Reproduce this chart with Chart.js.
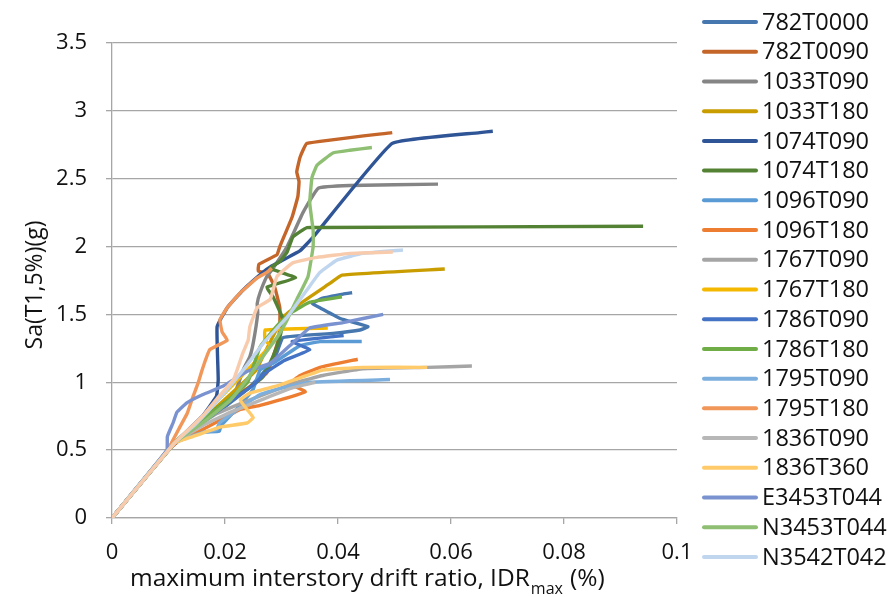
<!DOCTYPE html>
<html>
<head>
<meta charset="utf-8">
<script src="https://cdn.jsdelivr.net/npm/chart.js@4.4.0/dist/chart.umd.min.js"></script>
<style>
  html, body { margin: 0; padding: 0; background: #fff; }
  #wrap { width: 888px; height: 597px; position: relative; }
</style>
</head>
<body>
<div id="wrap"><canvas id="ida"></canvas></div>
<script>
// IDA curves: [IDRmax, Sa(T1,5%)] pairs
const s782T0000 = [[0,0],[0.011,0.55],[0.015,0.68],[0.02,0.82],[0.024,0.95],[0.027,1.08],[0.029,1.2],[0.0303,1.33],[0.0391,1.36],[0.0439,1.385],[0.0453,1.41],[0.0404,1.47],[0.0368,1.55],[0.0354,1.58],[0.0373,1.62],[0.0409,1.65],[0.0425,1.66]];
const s782T0090 = [[0,0],[0.0105,0.52],[0.016,0.72],[0.022,0.9],[0.0255,1.0],[0.0274,1.07],[0.0283,1.16],[0.0294,1.31],[0.0297,1.41],[0.0297,1.55],[0.0288,1.70],[0.0276,1.80],[0.0259,1.82],[0.026,1.87],[0.0292,1.94],[0.0297,2.0],[0.0319,2.22],[0.0329,2.37],[0.0331,2.48],[0.0327,2.55],[0.0333,2.66],[0.0345,2.76],[0.0496,2.84]];
const s1033T090 = [[0,0],[0.011,0.55],[0.015,0.68],[0.019,0.8],[0.022,0.95],[0.0232,1.09],[0.0244,1.19],[0.025,1.29],[0.0258,1.51],[0.0257,1.58],[0.0262,1.66],[0.0274,1.78],[0.0285,1.84],[0.031,2.0],[0.0338,2.25],[0.0365,2.43],[0.0421,2.45],[0.0577,2.46]];
const s1033T180 = [[0,0],[0.011,0.55],[0.014,0.66],[0.018,0.8],[0.022,0.95],[0.0255,1.09],[0.0267,1.19],[0.0303,1.48],[0.0333,1.58],[0.0386,1.73],[0.0407,1.79],[0.0589,1.835]];
const s1074T090 = [[0,0],[0.011,0.55],[0.016,0.75],[0.0185,0.9],[0.0188,1.02],[0.0186,1.41],[0.0204,1.55],[0.0232,1.68],[0.0267,1.81],[0.028,1.85],[0.0333,1.97],[0.0356,2.07],[0.0496,2.76],[0.0651,2.84],[0.0674,2.85]];
const s1074T180 = [[0,0],[0.011,0.55],[0.015,0.7],[0.02,0.85],[0.024,0.95],[0.0267,1.04],[0.0285,1.19],[0.0297,1.33],[0.0303,1.46],[0.0285,1.63],[0.0274,1.70],[0.0325,1.77],[0.028,1.84],[0.0297,1.89],[0.031,1.96],[0.032,2.07],[0.0333,2.11],[0.0345,2.14],[0.0368,2.14],[0.094,2.15]];
const s1096T090 = [[0,0],[0.011,0.55],[0.016,0.63],[0.019,0.64],[0.0193,0.68],[0.022,0.8],[0.025,0.95],[0.0262,1.09],[0.0285,1.14],[0.0333,1.27],[0.0368,1.30],[0.0442,1.30]];
const s1096T180 = [[0,0],[0.011,0.55],[0.015,0.63],[0.0191,0.72],[0.0227,0.80],[0.0262,0.83],[0.0297,0.87],[0.0342,0.93],[0.0315,0.99],[0.0333,1.05],[0.0368,1.11],[0.0435,1.17]];
const s1767T090 = [[0,0],[0.011,0.55],[0.014,0.65],[0.0186,0.77],[0.025,0.88],[0.0327,1.0],[0.0373,1.05],[0.0444,1.10],[0.0558,1.11],[0.0637,1.12]];
const s1767T180 = [[0,0],[0.011,0.55],[0.015,0.7],[0.019,0.88],[0.023,1.05],[0.028,1.27],[0.0271,1.31],[0.0271,1.385],[0.0382,1.40]];
const s1786T090 = [[0,0],[0.011,0.55],[0.016,0.7],[0.021,0.86],[0.025,0.98],[0.0275,1.08],[0.0305,1.16],[0.035,1.24],[0.0319,1.30],[0.040,1.34],[0.041,1.345]];
const s1786T180 = [[0,0],[0.011,0.55],[0.015,0.7],[0.02,0.85],[0.024,1.0],[0.0262,1.26],[0.0297,1.44],[0.032,1.52],[0.035,1.59],[0.0407,1.63]];
const s1795T090 = [[0,0],[0.011,0.55],[0.016,0.63],[0.0185,0.65],[0.019,0.7],[0.023,0.82],[0.0262,0.91],[0.0303,0.96],[0.035,1.0],[0.0492,1.02]];
const s1795T180 = [[0,0],[0.0098,0.5],[0.012,0.67],[0.0133,0.77],[0.0143,0.89],[0.0152,0.99],[0.0161,1.11],[0.0173,1.24],[0.0204,1.31],[0.0195,1.37],[0.0191,1.46],[0.0204,1.55],[0.0227,1.66],[0.0257,1.77],[0.0274,1.81],[0.0283,1.84]];
const s1836T090 = [[0,0],[0.011,0.55],[0.016,0.68],[0.021,0.78],[0.027,0.88],[0.032,0.96],[0.036,1.0]];
const s1836T360 = [[0,0],[0.011,0.55],[0.0143,0.60],[0.0191,0.67],[0.0239,0.70],[0.025,0.74],[0.0239,0.80],[0.0227,0.87],[0.0244,0.92],[0.0297,0.98],[0.0373,1.09],[0.0444,1.11],[0.0558,1.11]];
const sE3453T044 = [[0,0],[0.0097,0.5],[0.0098,0.6],[0.0108,0.70],[0.0115,0.78],[0.0133,0.85],[0.0161,0.91],[0.0196,0.97],[0.0239,1.08],[0.028,1.14],[0.032,1.29],[0.035,1.40],[0.0409,1.44],[0.048,1.50]];
const sN3453T044 = [[0,0],[0.011,0.55],[0.016,0.7],[0.021,0.87],[0.0239,1.02],[0.0267,1.19],[0.0292,1.33],[0.031,1.46],[0.0327,1.61],[0.0347,1.78],[0.0356,2.0],[0.0356,2.12],[0.035,2.32],[0.0354,2.51],[0.0363,2.60],[0.0391,2.69],[0.0421,2.71],[0.046,2.73]];
const sN3542T042 = [[0,0],[0.011,0.55],[0.015,0.7],[0.019,0.88],[0.0232,1.09],[0.027,1.3],[0.031,1.48],[0.0345,1.68],[0.0368,1.81],[0.0398,1.90],[0.0444,1.95],[0.0515,1.975]];
// one more record is plotted (pale peach) but has no legend entry
const sUnlabelled = [[0,0],[0.011,0.55],[0.016,0.75],[0.019,0.9],[0.0215,1.02],[0.0223,1.11],[0.0232,1.22],[0.0241,1.31],[0.0244,1.41],[0.0257,1.55],[0.028,1.61],[0.0285,1.68],[0.0292,1.78],[0.032,1.88],[0.0363,1.92],[0.0421,1.95],[0.0497,1.96]];

const SERIES_NAMES = ["782T0000", "782T0090", "1033T090", "1033T180", "1074T090", "1074T180", "1096T090", "1096T180",
  "1767T090", "1767T180", "1786T090", "1786T180", "1795T090", "1795T180", "1836T090", "1836T360",
  "E3453T044", "N3453T044", "N3542T042", ""];
const SERIES_DATA = [s782T0000, s782T0090, s1033T090, s1033T180, s1074T090, s1074T180, s1096T090, s1096T180,
  s1767T090, s1767T180, s1786T090, s1786T180, s1795T090, s1795T180, s1836T090, s1836T360,
  sE3453T044, sN3453T044, sN3542T042, sUnlabelled];

const X_TICKS = [0, 0.02, 0.04, 0.06, 0.08, 0.1];
const Y_TICKS = [0, 0.5, 1, 1.5, 2, 2.5, 3, 3.5];

const COLORS = ["#4677ae", "#c4652a", "#858585", "#c99d00", "#2f5597", "#548235", "#5b9bd5", "#ed7d31",
  "#a5a5a5", "#f5b800", "#4472c4", "#70ad47", "#7cafdd", "#f1975a", "#b7b7b7", "#ffca6a",
  "#7a93d0", "#8fbf73", "#c0d5ee", "#f8cbad"];

const TEXT = "#111111";
const GRID = "#a6a6a6";
const FONT = "'Open Sans', 'DejaVu Sans', sans-serif";

const titlesAndLegend = {
  id: "titlesAndLegend",
  afterDraw(chart) {
    const ctx = chart.ctx;
    ctx.save();
    ctx.fillStyle = TEXT;

    // y axis title
    ctx.save();
    ctx.translate(35, 285);
    ctx.rotate(-Math.PI / 2);
    ctx.font = `23px ${FONT}`;
    ctx.textAlign = "center";
    ctx.textBaseline = "middle";
    ctx.fillText("Sa(T1,5%)(g)", 0, 0);
    ctx.restore();

    // x axis title with subscript
    ctx.textAlign = "left";
    ctx.textBaseline = "alphabetic";
    let x = 130;
    const base = 586;
    ctx.font = `24.5px ${FONT}`;
    const main = "maximum interstory drift ratio, IDR";
    ctx.fillText(main, x, base);
    x += ctx.measureText(main).width + 1;
    ctx.font = `16px ${FONT}`;
    ctx.fillText("max", x, base + 8);
    x += ctx.measureText("max").width + 7;
    ctx.font = `24.5px ${FONT}`;
    ctx.fillText("(%)", x, base);

    // legend
    ctx.font = `23.5px ${FONT}`;
    ctx.textBaseline = "middle";
    SERIES_NAMES.forEach((name, i) => {
      if (!name) return;
      const y = 22 + i * 29.72;
      ctx.strokeStyle = COLORS[i];
      ctx.lineWidth = 4;
      ctx.lineCap = "round";
      ctx.beginPath();
      ctx.moveTo(704, y);
      ctx.lineTo(756, y);
      ctx.stroke();
      ctx.fillText(name, 762, y + 1);
    });
    ctx.restore();
  },
};

const datasets = SERIES_DATA.map((points, i) => ({
  label: SERIES_NAMES[i],
  data: points.map(([x, y]) => ({ x, y })),
  borderColor: COLORS[i],
  backgroundColor: COLORS[i],
  borderWidth: 3.4,
  pointRadius: 0,
  showLine: true,
  tension: 0.1,
  fill: false,
  order: SERIES_DATA.length - i,
}));

new Chart(document.getElementById("ida"), {
  type: "scatter",
  data: { datasets },
  options: {
    responsive: true,
    maintainAspectRatio: false,
    animation: false,
    devicePixelRatio: 1,
    layout: { padding: { top: 43, right: 211, bottom: 0, left: 0 } },
    plugins: {
      legend: { display: false },
      tooltip: { enabled: false },
    },
    scales: {
      x: {
        type: "linear",
        min: 0,
        max: 0.1,
        afterBuildTicks: (scale) => { scale.ticks = X_TICKS.map((value) => ({ value })); },
        afterFit: (scale) => { scale.height = 79; },
        ticks: {
          color: TEXT,
          font: { family: FONT, size: 22 },
          padding: 16,
          maxRotation: 0,
          callback: (v) => String(+v.toFixed(2)),
        },
        grid: { drawOnChartArea: false, drawTicks: true, tickLength: 6, color: GRID, lineWidth: 1.3 },
        border: { color: GRID, width: 1.3 },
      },
      y: {
        type: "linear",
        min: 0,
        max: 3.5,
        afterBuildTicks: (scale) => { scale.ticks = Y_TICKS.map((value) => ({ value })); },
        afterFit: (scale) => { scale.width = 112; },
        ticks: {
          color: TEXT,
          font: { family: FONT, size: 22 },
          padding: 19,
          callback: (v) => String(v),
        },
        grid: { color: GRID, lineWidth: 1.3, drawTicks: true, tickLength: 6 },
        border: { color: GRID, width: 1.3 },
      },
    },
  },
  plugins: [titlesAndLegend],
});
</script>
</body>
</html>
